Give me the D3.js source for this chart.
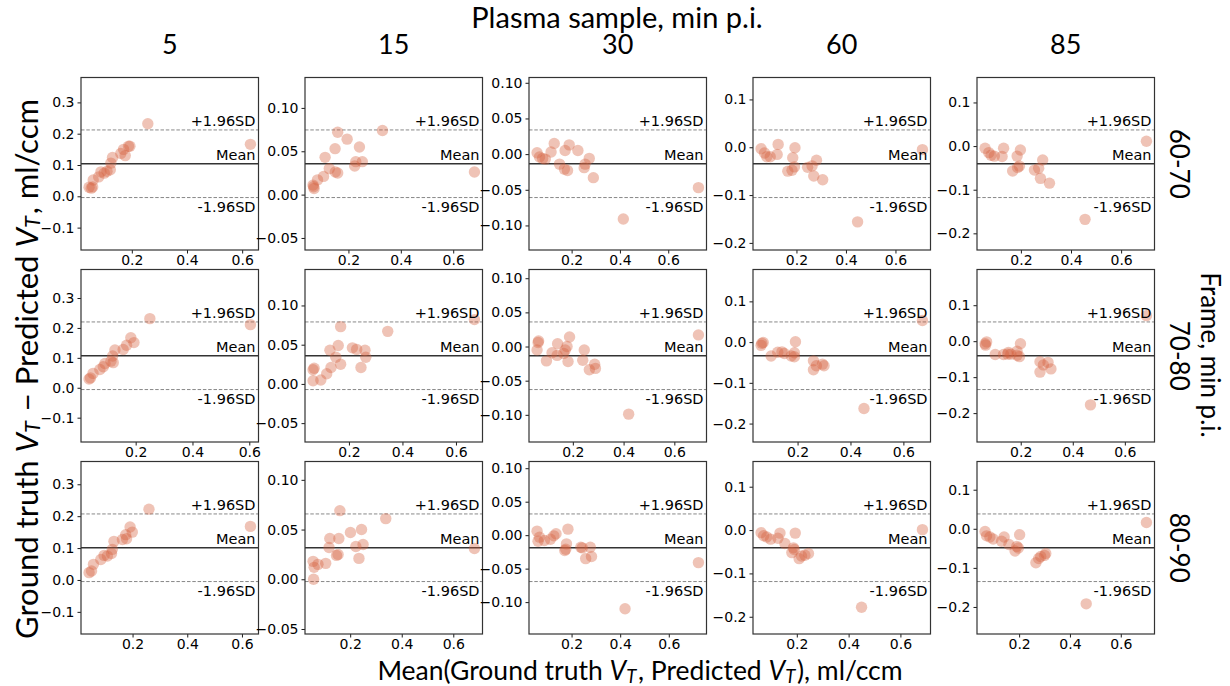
<!DOCTYPE html>
<html>
<head>
<meta charset="utf-8">
<title>Bland-Altman grid</title>
<script src="https://cdn.jsdelivr.net/npm/d3@7"></script>
<style>
  body { margin: 0; background: #fff; }
</style>
</head>
<body>
<svg id="container" width="1230" height="686"></svg>
<script>
// column = plasma sample time, row = frame
const plasmaTimes = ["5", "15", "30", "60", "85"];
const frames = ["60-70", "70-80", "80-90"];

// mean difference and 1.96*SD per panel [row][col]
const meanDiff = [
  [0.104, 0.0356, -0.0135, -0.0345, -0.0405],
  [0.107, 0.0359, -0.0135, -0.0335, -0.0405],
  [0.101, 0.0317, -0.0188, -0.0408, -0.0485]
];
const loa196 = [
  [0.108, 0.039, 0.0474, 0.0707, 0.0775],
  [0.113, 0.0431, 0.0495, 0.083, 0.094],
  [0.106, 0.034, 0.0505, 0.078, 0.0865]
];
const yTickStep = [0.1, 0.05, 0.05, 0.1, 0.1];
const xTicks = [0.2, 0.4, 0.6];

// points: [mean of GT and predicted VT, GT - predicted VT]
const f6070_p5 = [[0.045,0.029],[0.053,0.026],[0.058,0.030],[0.060,0.052],[0.080,0.062],[0.088,0.078],[0.100,0.074],[0.110,0.080],[0.122,0.085],[0.124,0.106],[0.130,0.124],[0.160,0.137],[0.170,0.150],[0.176,0.130],[0.188,0.160],[0.193,0.160],[0.258,0.232],[0.630,0.166]];
const f6070_p15 = [[0.065,0.011],[0.067,0.009],[0.069,0.007],[0.082,0.017],[0.105,0.021],[0.111,0.043],[0.127,0.030],[0.149,0.053],[0.150,0.026],[0.159,0.025],[0.159,0.072],[0.195,0.064],[0.224,0.033],[0.228,0.038],[0.242,0.055],[0.253,0.038],[0.330,0.074],[0.681,0.026]];
const f6070_p30 = [[0.057,0.002],[0.067,-0.004],[0.080,-0.006],[0.091,-0.007],[0.115,0.003],[0.128,0.015],[0.150,-0.014],[0.173,0.005],[0.170,-0.021],[0.183,-0.023],[0.190,0.013],[0.226,0.005],[0.252,-0.019],[0.256,-0.014],[0.273,-0.006],[0.290,-0.033],[0.414,-0.091],[0.725,-0.047]];
const f6070_p60 = [[0.057,-0.003],[0.071,-0.012],[0.080,-0.020],[0.094,-0.020],[0.122,-0.015],[0.126,0.006],[0.165,-0.050],[0.182,-0.048],[0.185,-0.022],[0.192,-0.041],[0.194,-0.001],[0.245,-0.042],[0.263,-0.039],[0.270,-0.060],[0.281,-0.027],[0.306,-0.068],[0.447,-0.156],[0.709,-0.005]];
const f6070_p85 = [[0.057,-0.005],[0.072,-0.015],[0.081,-0.021],[0.094,-0.023],[0.125,-0.024],[0.131,-0.005],[0.167,-0.057],[0.185,-0.023],[0.187,-0.049],[0.194,-0.046],[0.198,-0.009],[0.254,-0.055],[0.271,-0.051],[0.278,-0.074],[0.287,-0.032],[0.314,-0.085],[0.456,-0.168],[0.701,0.011]];

const f7080_p5 = [[0.036,0.029],[0.041,0.033],[0.050,0.048],[0.074,0.061],[0.086,0.070],[0.092,0.081],[0.113,0.089],[0.119,0.106],[0.121,0.084],[0.127,0.126],[0.156,0.128],[0.168,0.142],[0.183,0.167],[0.194,0.151],[0.250,0.231],[0.604,0.211]];
const f7080_p15 = [[0.066,0.018],[0.070,0.020],[0.066,0.004],[0.095,0.005],[0.117,0.013],[0.129,0.043],[0.133,0.021],[0.151,0.034],[0.160,0.049],[0.169,0.025],[0.169,0.073],[0.213,0.046],[0.229,0.044],[0.245,0.021],[0.260,0.043],[0.263,0.034],[0.345,0.067],[0.669,0.082]];
const f7080_p30 = [[0.059,-0.005],[0.063,0.006],[0.065,0.008],[0.096,-0.021],[0.118,-0.009],[0.138,-0.013],[0.140,0.004],[0.164,-0.010],[0.170,-0.005],[0.177,0.000],[0.181,-0.022],[0.187,0.014],[0.239,-0.020],[0.245,-0.005],[0.265,-0.034],[0.286,-0.026],[0.289,-0.032],[0.420,-0.099],[0.695,0.017]];
const f7080_p60 = [[0.062,-0.008],[0.065,-0.003],[0.070,-0.001],[0.100,-0.034],[0.125,-0.025],[0.141,-0.024],[0.150,-0.028],[0.176,-0.034],[0.188,-0.026],[0.188,-0.036],[0.192,0.001],[0.260,-0.046],[0.260,-0.068],[0.271,-0.058],[0.294,-0.054],[0.300,-0.058],[0.451,-0.163],[0.672,0.053]];
const f7080_p85 = [[0.063,-0.007],[0.065,-0.011],[0.069,-0.002],[0.102,-0.037],[0.134,-0.037],[0.150,-0.036],[0.153,-0.031],[0.162,-0.036],[0.186,-0.028],[0.186,-0.039],[0.195,-0.043],[0.199,-0.007],[0.274,-0.057],[0.274,-0.086],[0.287,-0.066],[0.305,-0.059],[0.316,-0.077],[0.468,-0.177],[0.683,0.071]];

const f8090_p5 = [[0.041,0.023],[0.050,0.028],[0.057,0.049],[0.084,0.064],[0.096,0.077],[0.108,0.075],[0.123,0.083],[0.126,0.096],[0.132,0.121],[0.163,0.127],[0.175,0.142],[0.178,0.129],[0.191,0.166],[0.199,0.150],[0.260,0.222],[0.631,0.168]];
const f8090_p15 = [[0.056,0.018],[0.060,0.012],[0.075,0.015],[0.058,0.000],[0.105,0.016],[0.118,0.032],[0.121,0.041],[0.147,0.024],[0.153,0.025],[0.156,0.041],[0.160,0.069],[0.201,0.047],[0.222,0.033],[0.234,0.021],[0.244,0.050],[0.250,0.035],[0.338,0.061],[0.682,0.031]];
const f8090_p30 = [[0.058,0.006],[0.062,-0.009],[0.068,-0.003],[0.088,-0.008],[0.113,-0.006],[0.127,-0.001],[0.136,0.002],[0.172,-0.023],[0.179,-0.013],[0.176,-0.021],[0.185,0.009],[0.238,-0.018],[0.244,-0.019],[0.258,-0.035],[0.277,-0.018],[0.282,-0.032],[0.420,-0.110],[0.722,-0.041]];
const f8090_p60 = [[0.062,-0.006],[0.072,-0.013],[0.084,-0.016],[0.099,-0.021],[0.127,-0.019],[0.135,-0.007],[0.154,-0.031],[0.181,-0.052],[0.187,-0.041],[0.190,-0.045],[0.194,-0.007],[0.209,-0.066],[0.218,-0.060],[0.231,-0.058],[0.245,-0.054],[0.450,-0.178],[0.685,0.001]];
const f8090_p85 = [[0.066,-0.007],[0.072,-0.018],[0.085,-0.021],[0.098,-0.026],[0.131,-0.032],[0.141,-0.021],[0.160,-0.040],[0.184,-0.057],[0.191,-0.045],[0.197,-0.049],[0.202,-0.015],[0.266,-0.087],[0.277,-0.076],[0.285,-0.071],[0.300,-0.068],[0.305,-0.063],[0.464,-0.192],[0.701,0.016]];

const points = [
  [f6070_p5, f6070_p15, f6070_p30, f6070_p60, f6070_p85],
  [f7080_p5, f7080_p15, f7080_p30, f7080_p60, f7080_p85],
  [f8090_p5, f8090_p15, f8090_p30, f8090_p60, f8090_p85]
];

const svg = d3.select("#container");
svg.append("rect").attr("width", 1230).attr("height", 686).attr("fill", "#fff");

const panelW = 177.5, panelH = 172.5;
const left0 = 81, colStep = 224, top0 = 77.5, rowStep = 192;
const tickFont = "DejaVu Sans";
const labelFont = "Lato, 'Open Sans', sans-serif";

frames.forEach((frame, r) => {
  plasmaTimes.forEach((pt, c) => {
    const data = points[r][c];
    const mean = meanDiff[r][c], loa = loa196[r][c];
    const g = svg.append("g")
      .attr("transform", `translate(${left0 + c * colStep},${top0 + r * rowStep})`);

    // x limits like matplotlib autoscale (5% margin)
    const [xmin, xmax] = d3.extent(data, d => d[0]);
    const pad = (xmax - xmin) * 0.05;
    const x = d3.scaleLinear().domain([xmin - pad, xmax + pad]).range([0, panelW]);
    // y limits: mean +/- 5 SD
    const half = loa / 1.96 * 5;
    const y = d3.scaleLinear().domain([mean - half, mean + half]).range([panelH, 0]);

    const step = yTickStep[c];
    const yTicks = d3.range(Math.ceil((mean - half) / step), Math.floor((mean + half) / step) + 1)
      .map(k => Math.round(k * step * 1000) / 1000 + 0);
    const yFmt = d3.format(step < 0.1 ? ".2f" : ".1f");

    const yAxis = g.append("g")
      .call(d3.axisLeft(y).tickValues(yTicks).tickFormat(yFmt).tickSize(3.5).tickPadding(3));
    const xAxis = g.append("g")
      .attr("transform", `translate(0,${panelH})`)
      .call(d3.axisBottom(x).tickValues(xTicks).tickFormat(d3.format(".1f")).tickSize(3.5).tickPadding(2));
    [yAxis, xAxis].forEach(a => {
      a.select(".domain").remove();
      a.selectAll(".tick line").attr("stroke", "#000").attr("stroke-width", 0.9);
      a.selectAll(".tick text").attr("font-family", tickFont).attr("font-size", 14).attr("fill", "#000");
    });

    // reference lines
    g.append("line")
      .attr("x1", 0).attr("x2", panelW)
      .attr("y1", y(mean)).attr("y2", y(mean))
      .attr("stroke", "#333").attr("stroke-width", 1.3);
    [mean + loa, mean - loa].forEach(v => {
      g.append("line")
        .attr("x1", 0).attr("x2", panelW)
        .attr("y1", y(v)).attr("y2", y(v))
        .attr("stroke", "#888").attr("stroke-width", 1)
        .attr("stroke-dasharray", "3.5,1.8");
    });

    g.append("g").selectAll("circle")
      .data(data)
      .join("circle")
      .attr("cx", d => x(d[0]))
      .attr("cy", d => y(d[1]))
      .attr("r", 5.7)
      .attr("fill", "#d4603e")
      .attr("fill-opacity", 0.38);

    const lab = (txt, yy) => g.append("text")
      .attr("x", panelW - 3).attr("y", yy)
      .attr("text-anchor", "end")
      .attr("font-family", tickFont).attr("font-size", 14.5)
      .text(txt);
    lab("+1.96SD", y(mean + loa) - 4.3);
    lab("Mean", y(mean) - 3.5);
    lab("-1.96SD", y(mean - loa) + 14.8);

    g.append("rect")
      .attr("width", panelW).attr("height", panelH)
      .attr("fill", "none").attr("stroke", "#333").attr("stroke-width", 1.2);

    if (r === 0) {
      svg.append("text")
        .attr("x", left0 + c * colStep + panelW / 2).attr("y", 54)
        .attr("text-anchor", "middle")
        .attr("font-family", labelFont).attr("font-size", 27)
        .text(pt);
    }
    if (c === plasmaTimes.length - 1) {
      const cy = top0 + r * rowStep + panelH / 2;
      svg.append("text")
        .attr("transform", `translate(1180,${cy}) rotate(90)`)
        .attr("text-anchor", "middle").attr("dominant-baseline", "central")
        .attr("font-family", labelFont).attr("font-size", 26)
        .text(frame);
    }
  });
});

// outer titles
svg.append("text")
  .attr("x", 617).attr("y", 28)
  .attr("text-anchor", "middle")
  .attr("font-family", labelFont).attr("font-size", 29)
  .text("Plasma sample, min p.i.");

svg.append("text")
  .attr("transform", "translate(1211,355) rotate(90)")
  .attr("text-anchor", "middle").attr("dominant-baseline", "central")
  .attr("font-family", labelFont).attr("font-size", 26)
  .text("Frame, min p.i.");

function vtLabel(sel, parts) {
  parts.forEach(p => {
    if (p === "VT") {
      sel.append("tspan").attr("font-style", "italic").text("V");
      sel.append("tspan").attr("font-style", "italic").attr("font-size", "70%").attr("dy", 6).text("T");
      sel.append("tspan").attr("dy", -6).text("\u200a");
    } else {
      sel.append("tspan").text(p);
    }
  });
}

const yLabel = svg.append("text")
  .attr("transform", "translate(26,369) rotate(-90)")
  .attr("text-anchor", "middle").attr("dominant-baseline", "central")
  .attr("font-family", labelFont).attr("font-size", 31);
vtLabel(yLabel, ["Ground truth ", "VT", " \u2212 Predicted ", "VT", ", ml/ccm"]);

const xLabel = svg.append("text")
  .attr("x", 640).attr("y", 670)
  .attr("text-anchor", "middle").attr("dominant-baseline", "central")
  .attr("font-family", labelFont).attr("font-size", 26.5);
vtLabel(xLabel, ["Mean(Ground truth ", "VT", ", Predicted ", "VT", "), ml/ccm"]);
</script>
</body>
</html>
